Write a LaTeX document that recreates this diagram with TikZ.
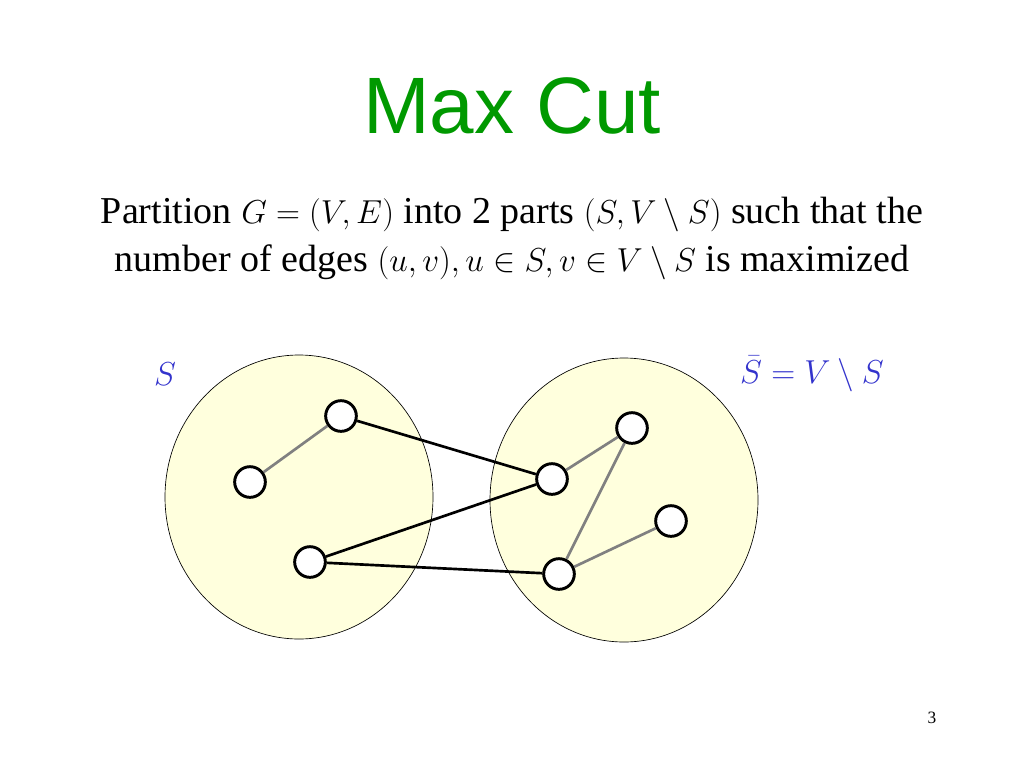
\documentclass[tikz,border=0pt]{standalone}
\usepackage{fontspec}
\usepackage{amsmath, amssymb}
\setmainfont{Liberation Serif}
\newfontfamily\titlefont{Liberation Sans}
\definecolor{titlegreen}{RGB}{0,153,0}
\definecolor{setblue}{RGB}{51,51,204}
\definecolor{partfill}{RGB}{255,255,221}
\tikzset{
  vert/.style={circle,draw,line width=2.2pt,fill=white,minimum size=23pt,inner sep=0pt},
  inedge/.style={draw=gray,line width=2pt},
  cutedge/.style={draw=black,line width=2pt},
  part/.style={draw,fill=partfill,line width=0.5pt}
}
\begin{document}
\begin{tikzpicture}[x=0.75pt,y=0.75pt,yscale=-1,xscale=1]
        \useasboundingbox (0,0) rectangle (1024,768);
        
        % Title
        \node (title) at (512,106) {\titlefont\fontsize{60}{72}\selectfont\color{titlegreen}Max Cut};
        % Statement
        \node (stmt) at (512,238) [align=center,font=\fontsize{28.5}{36}\selectfont] {Partition $G=(V,E)$ into 2 parts $(S,V\setminus S)$ such that the\\ number of edges $(u,v), u\in S, v\in V\setminus S$ is maximized};
        
        % Parts
        \draw [part] (299,497) ellipse [x radius=134, y radius=142];
        \draw [part] (624,500) ellipse [x radius=134, y radius=142];
        \node (lblS) at (165,374) [font=\fontsize{26}{30}\selectfont,text=setblue] {$S$};
        \node (lblSbar) at (812,374) [font=\fontsize{26}{30}\selectfont,text=setblue] {$\bar S = V\setminus S$};
        
        % Vertices
        \node [vert] (a) at (341,416) {};
        \node [vert] (b) at (250,482) {};
        \node [vert] (c) at (310,562) {};
        \node [vert] (d) at (552,479) {};
        \node [vert] (e) at (632,428) {};
        \node [vert] (f) at (671,521) {};
        \node [vert] (g) at (559,574) {};
        
        % Edges
        \draw [inedge] (b) -- (a);
        \draw [inedge] (d) -- (e);
        \draw [inedge] (e) -- (g);
        \draw [inedge] (g) -- (f);
        \draw [cutedge] (a) -- (d);
        \draw [cutedge] (c) -- (d);
        \draw [cutedge] (c) -- (g);
        
        % Page number
        \node (page) at (932,718) [font=\fontsize{13}{15}\selectfont] {3};
\end{tikzpicture}
\end{document}
